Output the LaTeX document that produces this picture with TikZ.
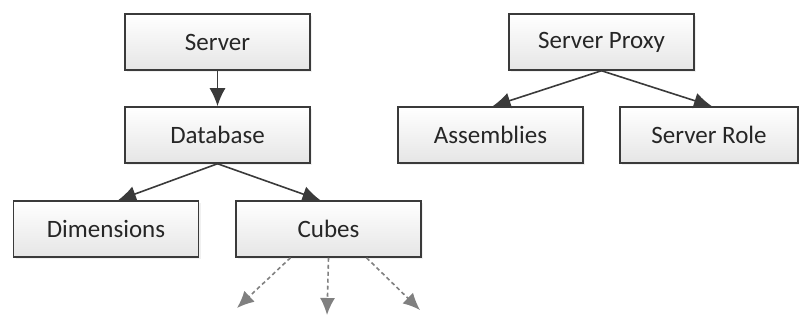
\documentclass[tikz,border=0pt]{standalone}
\usepackage{fontspec}
\setmainfont{Carlito}
\usetikzlibrary{arrows.meta,calc,shadows}
\definecolor{linegray}{HTML}{3A3A3A}
\definecolor{dashgray}{HTML}{808080}
\tikzset{
  box/.style={draw=linegray,line width=1.5pt,minimum width=185pt,minimum height=56pt,
    top color=white,bottom color=gray!20,text=black!85,
    drop shadow={opacity=0.12,shadow xshift=2pt,shadow yshift=-2pt},
    font=\fontsize{25}{30}\selectfont},
  edge/.style={-{Latex[length=18pt,width=16pt]},draw=linegray,line width=1.6pt},
  dedge/.style={-{Latex[length=17pt,width=15pt]},draw=dashgray,line width=1.6pt,dash pattern=on 4pt off 3pt},
}
\begin{document}
\begin{tikzpicture}[x=1pt,y=1pt]
\useasboundingbox (0,0) rectangle (799,321);
\node[box] (srv) at (217.5,279) {Server};
\node[box] (db) at (217.5,186) {Database};
\node[box] (dim) at (106,92) {Dimensions};
\node[box] (cub) at (328.5,92) {Cubes};
\node[box] (prx) at (601.5,279) {Server Proxy};
\node[box] (asm) at (490.5,186) {Assemblies};
\node[box,minimum width=178pt] (role) at (709,186) {Server Role};
% free ends below Cubes
\coordinate (c1) at (237,13);
\coordinate (c2) at (327,6);
\coordinate (c3) at (420,11);
\draw[edge] (srv) -- (db);
\draw[edge] (db.south) -- ($(dim.north)+(12,0)$);
\draw[edge] (db.south) -- ($(cub.north)+(-8,0)$);
\draw[edge] (prx.south) -- ($(asm.north)+(2,0)$);
\draw[edge] (prx.south) -- ($(role.north)+(3,0)$);
\draw[dedge] ($(cub.south)+(-38,0)$) -- (c1);
\draw[dedge] ($(cub.south)+(0,0)$) -- (c2);
\draw[dedge] ($(cub.south)+(38,0)$) -- (c3);
\end{tikzpicture}
\end{document}
